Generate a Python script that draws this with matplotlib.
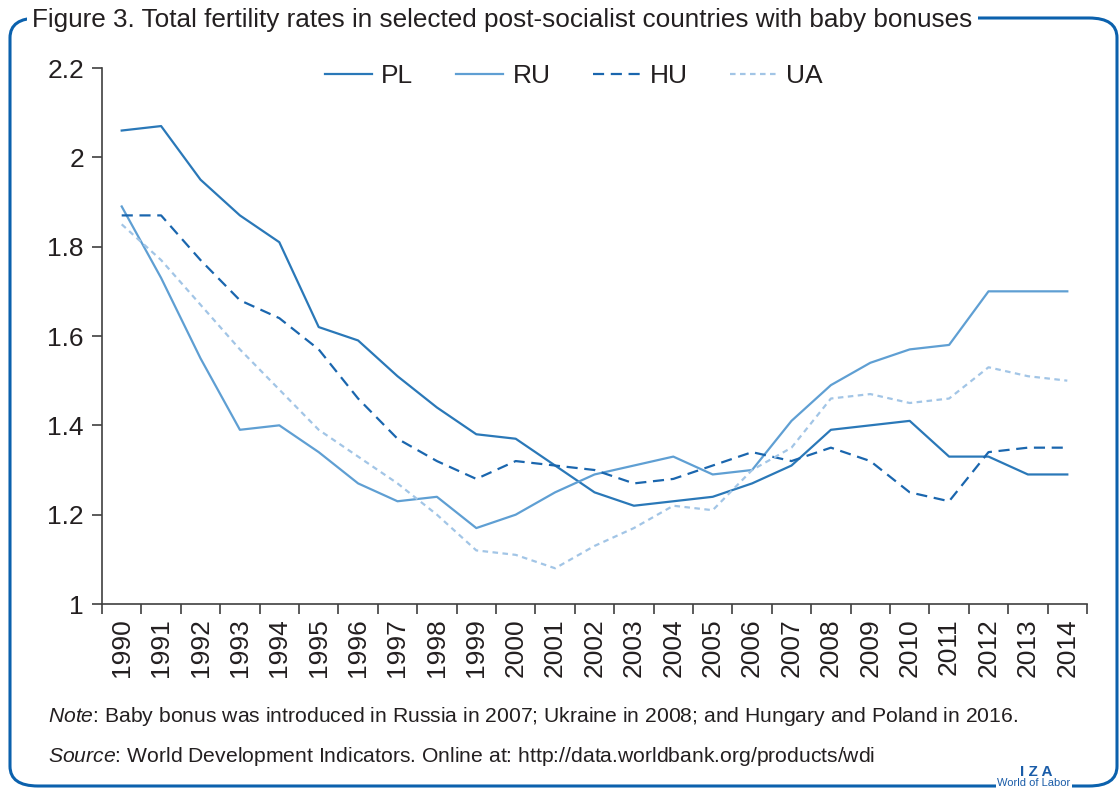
"""
Figure 3 - total fertility rates in post-socialist countries with baby bonuses.
"""

import matplotlib
matplotlib.use("Agg")
import matplotlib.pyplot as plt
from matplotlib.patches import FancyBboxPatch

plt.rcParams["font.family"] = ["Liberation Sans", "DejaVu Sans"]
plt.rcParams["mathtext.fontset"] = "custom"
plt.rcParams["mathtext.rm"] = "Liberation Sans"
plt.rcParams["mathtext.it"] = "Liberation Sans:italic"

# data
years = [str(y) for y in range(1990, 2015)]
pl = [2.06, 2.07, 1.95, 1.87, 1.81, 1.62, 1.59, 1.51, 1.44, 1.38, 1.37, 1.31, 1.25,
      1.22, 1.23, 1.24, 1.27, 1.31, 1.39, 1.40, 1.41, 1.33, 1.33, 1.29, 1.29]
ru = [1.89, 1.73, 1.55, 1.39, 1.40, 1.34, 1.27, 1.23, 1.24, 1.17, 1.20, 1.25, 1.29,
      1.31, 1.33, 1.29, 1.30, 1.41, 1.49, 1.54, 1.57, 1.58, 1.70, 1.70, 1.70]
hu = [1.87, 1.87, 1.77, 1.68, 1.64, 1.57, 1.46, 1.37, 1.32, 1.28, 1.32, 1.31, 1.30,
      1.27, 1.28, 1.31, 1.34, 1.32, 1.35, 1.32, 1.25, 1.23, 1.34, 1.35, 1.35]
ua = [1.85, 1.77, 1.67, 1.57, 1.48, 1.39, 1.33, 1.27, 1.20, 1.12, 1.11, 1.08, 1.13,
      1.17, 1.22, 1.21, 1.30, 1.35, 1.46, 1.47, 1.45, 1.46, 1.53, 1.51, 1.50]
y_ticks = [1, 1.2, 1.4, 1.6, 1.8, 2, 2.2]
y_labels = ["1", "1.2", "1.4", "1.6", "1.8", "2", "2.2"]

TITLE = "Figure 3. Total fertility rates in selected post-socialist countries with baby bonuses"
NOTE = r"$\it{Note}$: Baby bonus was introduced in Russia in 2007; Ukraine in 2008; and Hungary and Poland in 2016."
SOURCE = r"$\it{Source}$: World Development Indicators. Online at: http://data.worldbank.org/products/wdi"

W, H = 1120, 789
FRAME = "#0b61ad"
TEXT = "#231f20"

fig = plt.figure(figsize=(W / 100, H / 100), dpi=100)

# rounded frame round the whole figure
frame = FancyBboxPatch((10 / W, 3 / H), 1107 / W, 768 / H,
                       boxstyle="round,pad=0,rounding_size=0.025",
                       transform=fig.transFigure, fill=False,
                       edgecolor=FRAME, linewidth=2.2, zorder=0)
fig.patches.append(frame)

ax = fig.add_axes([102 / W, 1 - 604 / H, 985 / W, 536 / H])
x = range(len(years))
ax.plot(x, pl, color="#2a78b8", lw=1.6, label="PL")
ax.plot(x, ru, color="#5f9fd3", lw=1.6, label="RU")
ax.plot(x, hu, color="#1a66ae", lw=1.6, ls=(0, (5, 3)), label="HU")
ax.plot(x, ua, color="#a2c5e6", lw=1.6, ls=(0, (2.5, 2)), label="UA")

ax.set_xlim(-0.5, len(years) - 0.5)
ax.set_ylim(1, 2.2)
ax.set_yticks(y_ticks)
ax.set_yticklabels(y_labels)
ax.set_xticks(list(x))
ax.set_xticklabels(years, rotation=90)
ax.set_xticks([i - 0.5 for i in range(len(years) + 1)], minor=True)
ax.tick_params(axis="x", which="major", length=0, pad=10, labelsize=19, labelcolor=TEXT)
ax.tick_params(axis="x", which="minor", length=7, width=1.2, color="#404040")
ax.tick_params(axis="y", length=7, width=1.2, color="#404040", labelsize=19,
               labelcolor=TEXT, pad=6)
for side in ("top", "right"):
    ax.spines[side].set_visible(False)
for side in ("left", "bottom"):
    ax.spines[side].set_color("#404040")
    ax.spines[side].set_linewidth(1.2)

ax.legend(loc="upper center", bbox_to_anchor=(0.479, 1.052), ncol=4, frameon=False,
          fontsize=19, handlelength=1.8, columnspacing=1.6, handletextpad=0.35,
          labelcolor=TEXT)

fig.text(32 / W, 1 - 20 / H, TITLE, ha="left", va="center", fontsize=18.8,
         color=TEXT, family=["Liberation Sans Narrow", "Liberation Sans", "DejaVu Sans"],
         bbox=dict(facecolor="white", edgecolor="none", pad=4))
fig.text(48 / W, 1 - 717 / H, NOTE, ha="left", va="center", fontsize=15.2, color=TEXT)
fig.text(48 / W, 1 - 756 / H, SOURCE, ha="left", va="center", fontsize=15.2, color=TEXT)

# IZA logo corner
fig.text(1020 / W, 1 - 772 / H, "I Z A", ha="left", va="center", fontsize=11,
         color="#1a5ca8", weight="bold",
         bbox=dict(facecolor="white", edgecolor="none", pad=6))
fig.text(997 / W, 1 / H, "World of Labor", ha="left", va="bottom", fontsize=8,
         color="#1a5ca8", bbox=dict(facecolor="white", edgecolor="none", pad=1))

fig.savefig("out.png", dpi=100)
